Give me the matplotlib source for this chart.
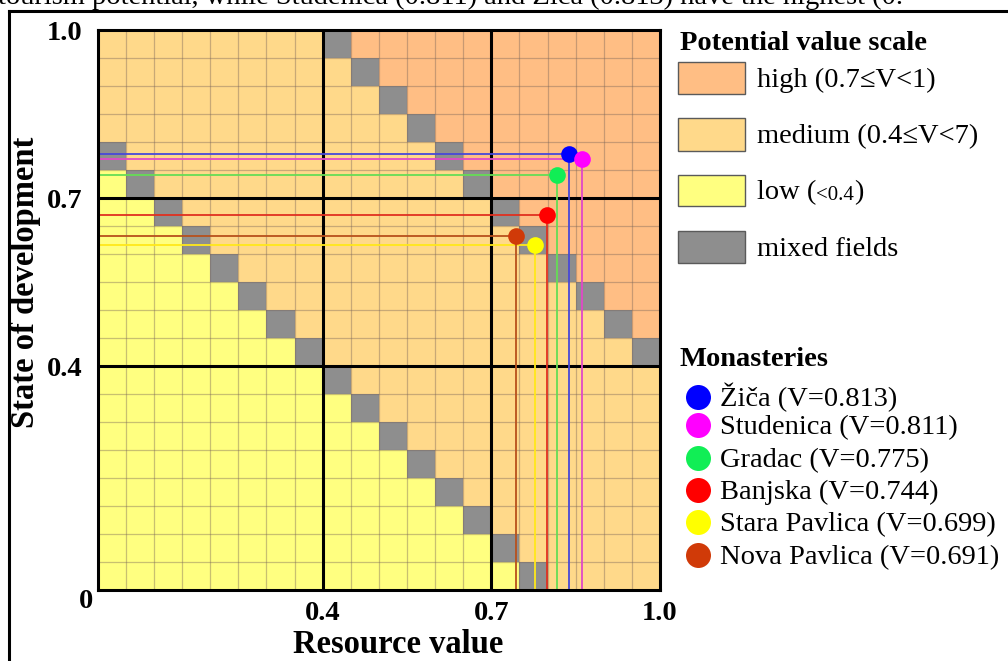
import matplotlib
matplotlib.use("Agg")
import matplotlib.pyplot as plt
import numpy as np
from matplotlib.colors import ListedColormap
from matplotlib.patches import Rectangle
from matplotlib.lines import Line2D

plt.rcParams["font.family"] = ["Liberation Serif", "DejaVu Serif"]

# field grid and class limits of the potential value V
cell_step = 0.05
low_limit = 0.4
high_limit = 0.7
axis_ticks = [0.4, 0.7, 1.0]
tick_labels = ["0.4", "0.7", "1.0"]

# potential value scale (legend order)
scale_labels = ["high (0.7≤V<1)", "medium (0.4≤V<7)", "low (", "mixed fields"]
scale_colors = ["#FFBE84", "#FFD98A", "#FFFF80", "#8E8E8E"]

# monasteries
names = ["Žiča", "Studenica", "Gradac", "Banjska", "Stara Pavlica", "Nova Pavlica"]
v_values = [0.813, 0.811, 0.775, 0.744, 0.699, 0.691]
resource = [0.838, 0.862, 0.817, 0.799, 0.777, 0.744]
development = [0.778, 0.770, 0.741, 0.670, 0.616, 0.633]
dot_colors = ["#0000FF", "#FF00FF", "#11EE55", "#FF0000", "#FFFF00", "#D03A08"]
line_colors = ["#4848D8", "#E048C8", "#66DD55", "#E03020", "#FFE81A", "#B8501C"]

caption = "tourism potential, while Studenica (0.811) and Žiča (0.813) have the highest (0."

W, H = 1008, 661
fig = plt.figure(figsize=(W / 100, H / 100), dpi=100)


def fx(px):
    return px / W


def fy(py):
    return 1 - py / H


ax = fig.add_axes([fx(97.7), fy(590), fx(660) - fx(97.7), fy(30) - fy(590)])

# classify every field by the range of V=(x+y)/2 inside it
edges = np.linspace(0, 1, int(round(1 / cell_step)) + 1)
x0, y0 = np.meshgrid(edges[:-1], edges[:-1])
v_min = (x0 + y0) / 2
v_max = (x0 + y0 + 2 * cell_step) / 2
tol = 1e-9
cls = np.ones(v_min.shape)
cls[v_max <= low_limit + tol] = 2
cls[v_min >= high_limit - tol] = 0
mixed = np.zeros(v_min.shape, dtype=bool)
for lim in (low_limit, high_limit):
    mixed |= (v_min < lim - tol) & (v_max > lim + tol)
cls[mixed] = 3

ax.pcolormesh(edges, edges, cls, cmap=ListedColormap(scale_colors),
              vmin=-0.5, vmax=3.5, shading="flat", zorder=0)
ax.vlines(edges[1:-1], 0, 1, colors="#766258", alpha=0.4, lw=0.9, zorder=1)
ax.hlines(edges[1:-1], 0, 1, colors="#766258", alpha=0.4, lw=0.9, zorder=1)
for lim in (low_limit, high_limit):
    ax.axvline(lim, color="black", lw=2.2, zorder=2)
    ax.axhline(lim, color="black", lw=2.2, zorder=2)

for r, d, dc, lc in zip(resource, development, dot_colors, line_colors):
    ax.plot([0, r], [d, d], color=lc, lw=1.3, zorder=3)
    ax.plot([r, r], [0, d], color=lc, lw=1.3, zorder=3)
for r, d, dc in zip(resource, development, dot_colors):
    ax.plot(r, d, "o", ms=12, color=dc, mew=0, zorder=4)

ax.set_xlim(0, 1)
ax.set_ylim(0, 1)
ax.set_xticks(axis_ticks, tick_labels)
ax.set_yticks(axis_ticks, tick_labels)
ax.tick_params(length=0, labelsize=20.5)
ax.tick_params(axis="x", pad=8)
ax.tick_params(axis="y", pad=11)
for lab in ax.get_xticklabels() + ax.get_yticklabels():
    lab.set_fontweight("bold")
for sp in ax.spines.values():
    sp.set_linewidth(2.2)
    sp.set_zorder(5)

bold = dict(fontweight="bold", fontsize=23.5)
fig.text(fx(86), fy(602), "0", ha="center", va="center", fontweight="bold", fontsize=20.5)
fig.text(fx(398), fy(653), "Resource value", ha="center", va="baseline", **bold)
fig.text(fx(26), fy(282), "State of development", ha="center", va="center",
         rotation=90, **bold)

# outer frame and the cut caption line above it
fig.add_artist(Line2D([fx(9), fx(9)], [fy(11), -0.05], color="black", lw=2.2,
                      transform=fig.transFigure))
fig.add_artist(Line2D([fx(9), 1.05], [fy(11), fy(11)], color="black", lw=2.2,
                      transform=fig.transFigure))
fig.text(fx(-2), fy(4.5), caption, ha="left", va="baseline", fontsize=20.5)

# potential value scale legend
fig.text(fx(680), fy(43), "Potential value scale", ha="left", va="center",
         fontweight="bold", fontsize=20.5)
swatch_y = [78, 134.5, 190.5, 246.5]
for lab, col, sy in zip(scale_labels, scale_colors, swatch_y):
    fig.add_artist(Rectangle((fx(678), fy(sy + 16)), fx(745) - fx(678), fy(sy - 16) - fy(sy + 16),
                             facecolor=col, edgecolor="#5a5a5a", lw=1.0,
                             transform=fig.transFigure))
    t = fig.text(fx(757), fy(sy + 9), lab, ha="left", va="baseline", fontsize=20.5)
    if lab == "low (":
        fig.canvas.draw()
        bb = t.get_window_extent(fig.canvas.get_renderer())
        t2 = fig.text(bb.x1 / W, fy(sy + 9), "<0.4", ha="left", va="baseline", fontsize=15)
        fig.canvas.draw()
        bb2 = t2.get_window_extent(fig.canvas.get_renderer())
        fig.text(bb2.x1 / W, fy(sy + 9), ")", ha="left", va="baseline", fontsize=20.5)

# monasteries legend
fig.text(fx(680), fy(360), "Monasteries", ha="left", va="center",
         fontweight="bold", fontsize=20.5)
row_y = [397, 425, 458, 490, 522, 555]
for name, v, dc, ry in zip(names, v_values, dot_colors, row_y):
    fig.add_artist(Line2D([fx(698)], [fy(ry)], marker="o", ms=18, color=dc, mew=0,
                          transform=fig.transFigure))
    fig.text(fx(720), fy(ry + 9), f"{name} (V={v:.3f})", ha="left", va="baseline",
             fontsize=20.5)

fig.savefig("out.png", dpi=100)
